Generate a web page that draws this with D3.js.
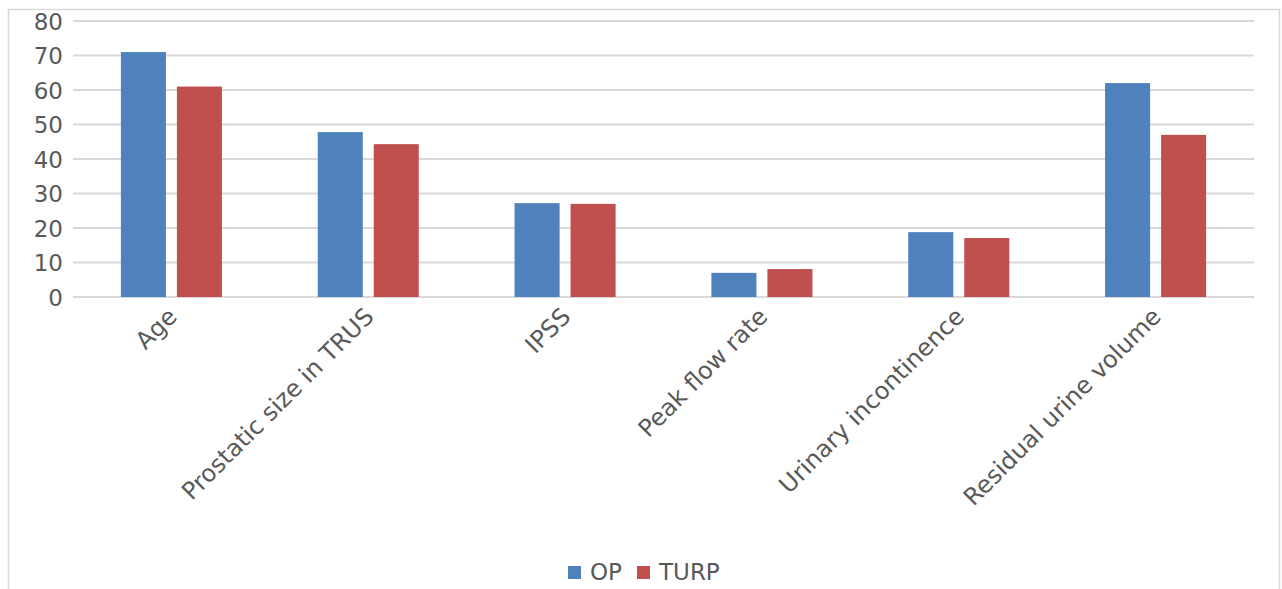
<!DOCTYPE html>
<html><head><meta charset="utf-8">
<script src="https://cdn.jsdelivr.net/npm/d3@7"></script>
<style>html,body{margin:0;padding:0;background:#fff;}svg{display:block;}</style>
</head><body>
<script>
const categories = ["Age","Prostatic size in TRUS","IPSS","Peak flow rate","Urinary incontinence","Residual urine volume"];
const seriesNames = ["OP","TURP"];
const opValues = [71, 47.8, 27.2, 7.0, 18.8, 62];
const turpValues = [61, 44.3, 27.0, 8.1, 17.1, 47];
const yTicks = [0,10,20,30,40,50,60,70,80];
const colors = ["#4f81bd","#c0504d"];

const W = 1282, H = 589;
const svg = d3.select("body").append("svg").attr("width", W).attr("height", H);
const font = "'DejaVu Sans', Verdana, sans-serif";
const textColor = "#595959";

svg.append("rect").attr("x",8.5).attr("y",9.5).attr("width",1271).attr("height",640)
  .attr("fill","#fff").attr("stroke","#d9d9d9").attr("stroke-width",1.5);

const x = d3.scaleBand().domain(categories).range([73,1254]).padding(0);
const xs = d3.scaleBand().domain(seriesNames).range([0, x.step()]).paddingInner(0.196).paddingOuter(0.855);
const y = d3.scaleLinear().domain([0,80]).range([297,21]);

const grid = svg.append("g");
grid.selectAll("line").data(yTicks).join("line")
  .attr("x1",73).attr("x2",1254)
  .attr("y1",d=>y(d)).attr("y2",d=>y(d))
  .attr("stroke","#d9d9d9").attr("stroke-width",2);

const yAxis = d3.axisLeft(y).tickValues(yTicks).tickSize(0).tickPadding(0);
const ya = svg.append("g").attr("transform","translate(63,0)").call(yAxis);
ya.select(".domain").remove();
ya.selectAll("text").attr("font-family",font).attr("font-size",23).attr("fill",textColor).attr("dy","0.35em");

const data = categories.map((c,i)=>({cat:c, vals:[opValues[i], turpValues[i]]}));
const groups = svg.append("g").selectAll("g").data(data).join("g")
  .attr("transform",d=>`translate(${x(d.cat)},0)`);
groups.selectAll("rect").data(d=>d.vals.map((v,j)=>({s:seriesNames[j], v, j}))).join("rect")
  .attr("x",d=>xs(d.s)).attr("width",xs.bandwidth())
  .attr("y",d=>y(d.v)).attr("height",d=>y(0)-y(d.v))
  .attr("fill",d=>colors[d.j]);

const xAxis = d3.axisBottom(x).tickSize(0).tickPadding(0);
const xa = svg.append("g").attr("transform","translate(0,297)").call(xAxis);
xa.select(".domain").remove();
xa.selectAll(".tick text")
  .attr("font-family",font).attr("font-size",24).attr("fill",textColor)
  .attr("text-anchor","end").attr("dy","0.35em").attr("y",0)
  .attr("transform","translate(1,15) rotate(-45)");

const legend = svg.append("g");
const legItems = [{n:"OP",sx:568,tx:590,c:colors[0]},{n:"TURP",sx:637,tx:659,c:colors[1]}];
legItems.forEach(it=>{
  legend.append("rect").attr("x",it.sx).attr("y",566).attr("width",13).attr("height",13).attr("fill",it.c);
  legend.append("text").attr("x",it.tx).attr("y",580).attr("font-family",font).attr("font-size",23)
    .attr("fill",textColor).text(it.n);
});
</script>
</body></html>
